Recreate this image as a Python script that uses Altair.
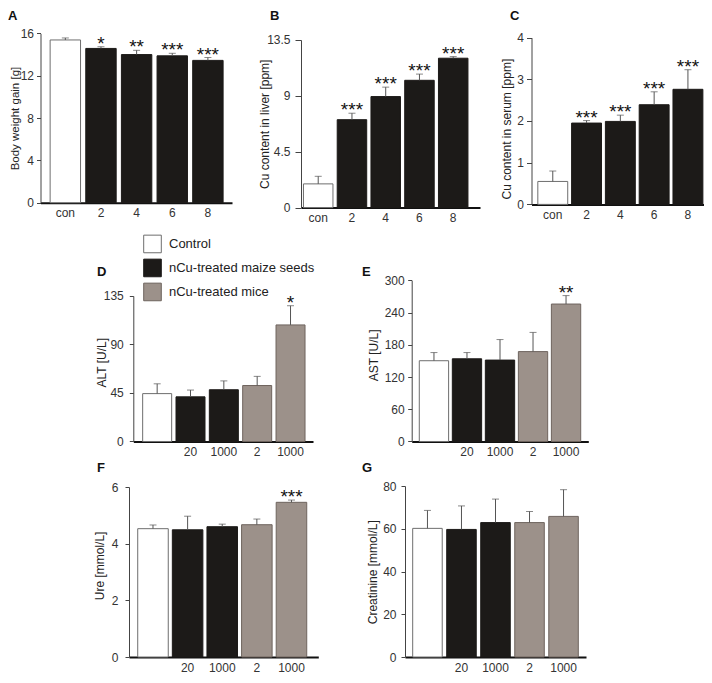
import altair as alt
import pandas as pd

# ---------------- data ----------------
GROUPS = ["Control", "nCu-treated maize seeds", "nCu-treated mice"]
FILLS = ["#ffffff", "#1c1a18", "#9c918a"]
STROKES = ["#6e6e6e", "#1c1a18", "#6e645e"]

dose_labels = ["con", "2", "4", "6", "8"]
dose_groups = [0, 1, 1, 1, 1]

bw_mean = [15.38, 14.58, 14.0, 13.88, 13.45]
bw_err = [0.19, 0.16, 0.40, 0.24, 0.27]
bw_sig = ["", "*", "**", "***", "***"]

liver_mean = [1.91, 7.08, 8.94, 10.25, 12.03]
liver_err = [0.61, 0.52, 0.76, 0.50, 0.13]
liver_sig = ["", "***", "***", "***", "***"]

serum_mean = [0.55, 1.95, 1.99, 2.39, 2.76]
serum_err = [0.25, 0.06, 0.15, 0.31, 0.47]
serum_sig = ["", "***", "***", "***", "***"]

clin_labels = ["", "20", "1000", "2", "1000"]
clin_groups = [0, 1, 1, 2, 2]

alt_mean = [44.4, 41.4, 48.0, 51.9, 108.1]
alt_err = [9.1, 6.3, 8.2, 8.5, 17.8]
alt_sig = ["", "", "", "", "*"]

ast_mean = [150.3, 153.9, 151.5, 167.3, 255.8]
ast_err = [15.2, 11.6, 38.2, 35.7, 15.7]
ast_sig = ["", "", "", "", "**"]

ure_mean = [4.53, 4.49, 4.60, 4.67, 5.46]
ure_err = [0.13, 0.48, 0.09, 0.20, 0.08]
ure_sig = ["", "", "", "", "***"]

crea_mean = [60.2, 59.7, 62.9, 62.9, 65.8]
crea_err = [8.4, 11.0, 11.0, 5.2, 12.5]
crea_sig = ["", "", "", "", ""]

FONT = "Liberation Sans, Arial, sans-serif"
W, H = 696, 667


def cx(x):
    return x - 8


def cy(y):
    return (y - 3) * 0.977


fill_scale = alt.Scale(domain=GROUPS, range=FILLS)
stroke_scale = alt.Scale(domain=GROUPS, range=STROKES)


def legend_spec():
    return alt.Legend(
        orient="none", legendX=cx(143), legendY=cy(244) - 9, title=None,
        symbolType="square", symbolSize=310, symbolStrokeWidth=1,
        labelFont=FONT, labelFontSize=13, labelColor="#222", labelOffset=7,
        rowPadding=1, padding=0,
    )


def panel(labels, groups, mean, err, sig, ymax, yticks, title, geo, show_legend=False):
    df = pd.DataFrame({
        "pos": list(range(len(mean))),
        "group": [GROUPS[g] for g in groups],
        "mean": mean,
        "top": [m + e for m, e in zip(mean, err)],
        "sig": sig,
    })
    base = alt.Chart(df)
    label_expr = "[" + ",".join("'" + l + "'" for l in labels) + "][datum.value]"
    y0 = cy(geo["y0"])
    x_enc = alt.X(
        "pos:O",
        scale=alt.Scale(range=[cx(geo["x0"]), cx(geo["x1"])], paddingInner=geo["pi"],
                        paddingOuter=geo["po"], align=geo["al"]),
        axis=alt.Axis(orient="bottom", offset=y0 - H, labelExpr=label_expr, ticks=False,
                      tickSize=0, labelPadding=5, labelAngle=0, domainWidth=2,
                      domainColor="#111", labelFont=FONT, labelFontSize=12,
                      labelColor="#333", title=None, grid=False),
    )
    yaxis_kwargs = dict(
        orient="left", offset=-cx(geo["x0"]), values=yticks,
        labelExpr="'' + datum.value", title=title,
        titleX=geo["tx"], tickSize=geo["tick"], labelPadding=geo["pad"], grid=False,
        domainColor="#444", tickColor="#444", labelFont=FONT, labelFontSize=12,
        labelColor="#333", titleFont=FONT, titleFontSize=geo.get("tfs", 12),
        titleFontWeight="normal", titleColor="#222",
    )
    if geo.get("ty") is not None:
        yaxis_kwargs["titleY"] = cy(geo["ty"])
    y_enc = alt.Y(
        "mean:Q",
        scale=alt.Scale(domain=[0, ymax], range=[y0, cy(geo["y1"])], nice=False, zero=True),
        axis=alt.Axis(**yaxis_kwargs),
    )
    bars = base.mark_bar(strokeWidth=1).encode(
        x=x_enc, y=y_enc,
        fill=alt.Fill("group:N", scale=fill_scale, legend=legend_spec() if show_legend else None),
        stroke=alt.Stroke("group:N", scale=stroke_scale, legend=legend_spec() if show_legend else None),
    )
    rule = base.mark_rule(color="#555", strokeWidth=1).encode(
        x="pos:O", y="mean:Q", y2="top:Q"
    )
    cap = base.mark_tick(color="#555", size=7, thickness=1, orient="horizontal").encode(
        x="pos:O", y="top:Q"
    )
    stars = base.mark_text(font=FONT, fontSize=19, color="#111", baseline="alphabetic",
                           dy=3).encode(
        x="pos:O", y="top:Q", text="sig:N"
    )
    return alt.layer(bars, rule, cap, stars)


pA = panel(dose_labels, dose_groups, bw_mean, bw_err, bw_sig, 16, [0, 4, 8, 12, 16],
           "Body weight gain [g]",
           dict(x0=40.5, x1=232, pi=0.147, po=0.26, al=0.52, y0=202.3, y1=29,
                tick=4, pad=3, tx=-20, tfs=11.5), show_legend=True)
pB = panel(dose_labels, dose_groups, liver_mean, liver_err, liver_sig, 13.5, [0, 4.5, 9, 13.5],
           "Cu content in liver [ppm]",
           dict(x0=301, x1=480, pi=0.126, po=0.215, al=0.17, y0=207.3, y1=35.7,
                tick=6, pad=5, tx=-30))
pC = panel(dose_labels, dose_groups, serum_mean, serum_err, serum_sig, 4, [0, 1, 2, 3, 4],
           "Cu content in serum [ppm]",
           dict(x0=531.5, x1=704, pi=0.115, po=0.11, al=0.85, y0=204, y1=33.3,
                tick=5, pad=3, tx=-18, ty=126.5))
pD = panel(clin_labels, clin_groups, alt_mean, alt_err, alt_sig, 135, [0, 45, 90, 135],
           "ALT [U/L]",
           dict(x0=133.3, x1=313, pi=0.13, po=0.26, al=0.54, y0=446.7, y1=297.7,
                tick=4, pad=6, tx=-25, ty=365.5))
pE = panel(clin_labels, clin_groups, ast_mean, ast_err, ast_sig, 300, [0, 60, 120, 180, 240, 300],
           "AST [U/L]",
           dict(x0=411.7, x1=588.3, pi=0.112, po=0.23, al=0.5, y0=446.7, y1=281.7,
                tick=4, pad=3.5, tx=-31.7, ty=358))
pF = panel(clin_labels, clin_groups, ure_mean, ure_err, ure_sig, 6, [0, 2, 4, 6],
           "Ure [mmol/L]",
           dict(x0=129, x1=318.3, pi=0.118, po=0.293, al=0.43, y0=667.3, y1=493.3,
                tick=4, pad=7, tx=-22.3, ty=573.5))
pG = panel(clin_labels, clin_groups, crea_mean, crea_err, crea_sig, 80, [0, 20, 40, 60, 80],
           "Creatinine [mmol/L]",
           dict(x0=405, x1=586, pi=0.132, po=0.226, al=0.5, y0=667.3, y1=492.3,
                tick=4, pad=5, tx=-25.7, ty=580))

panel_letters = ["A", "B", "C", "D", "E", "F", "G"]
letter_pos = [(8, 5), (270, 5), (510, 5), (97, 267), (362, 267), (97, 468), (362, 468)]
letters = []
for letter, (lx, ly) in zip(panel_letters, letter_pos):
    letters.append(
        alt.Chart(pd.DataFrame({"t": [letter]})).mark_text(
            font=FONT, fontSize=13, fontWeight="bold", align="left", baseline="top",
            color="#111"
        ).encode(x=alt.value(max(cx(lx), 0)), y=alt.value(max(cy(ly), 2)), text="t:N")
    )

chart = alt.layer(pA, pB, pC, pD, pE, pF, pG, *letters).resolve_scale(
    x="independent", y="independent"
).properties(
    width=W, height=H, padding=0, autosize=alt.AutoSizeParams(type="none")
).configure_view(stroke=None)

chart.save("out.html", embed_options={"renderer": "svg", "actions": False})
